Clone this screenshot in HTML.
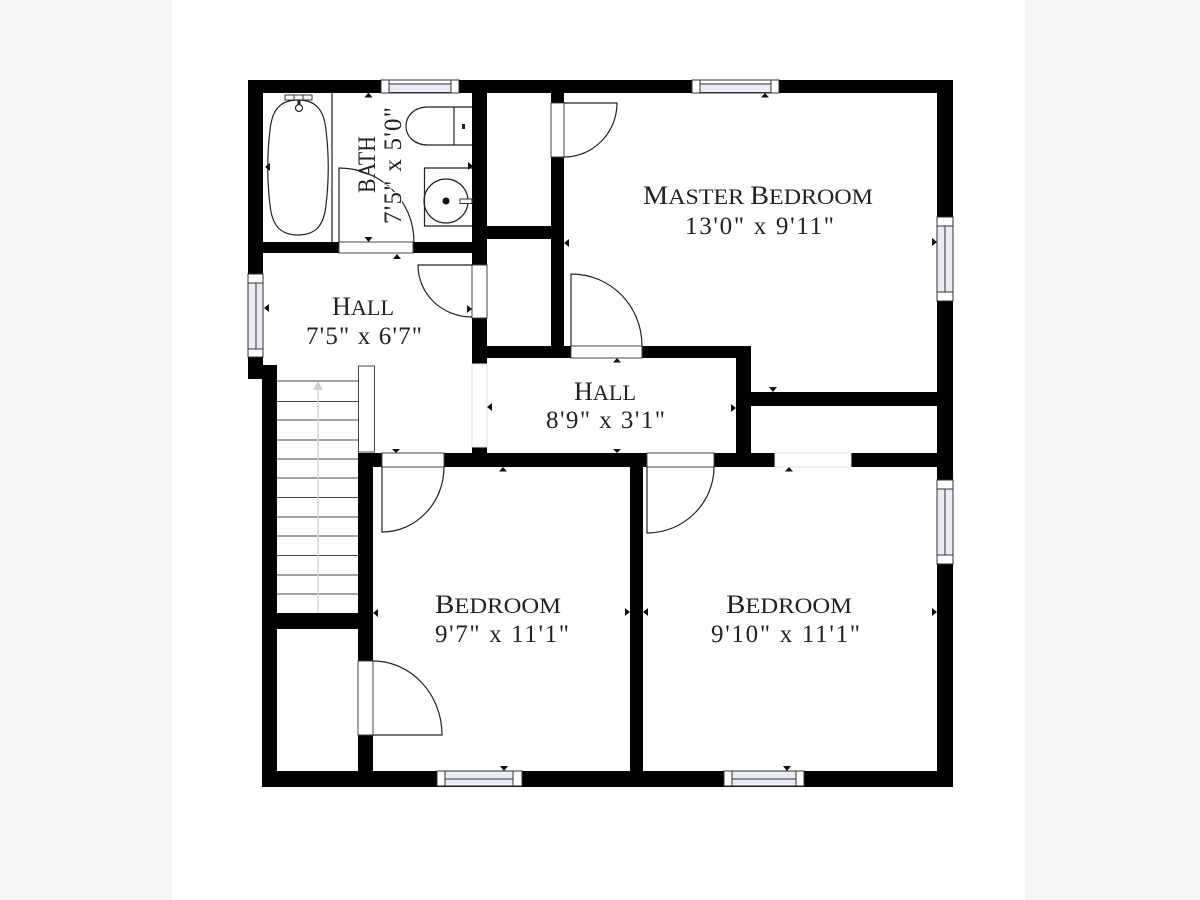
<!DOCTYPE html>
<html><head><meta charset="utf-8"><style>
html,body{margin:0;padding:0;width:1200px;height:900px;overflow:hidden;background:#f6f6f6}
svg{display:block}
text{font-family:"Liberation Serif",serif;fill:#222}
.n{font-size:22px}
.n .c{font-size:26px}
.d{font-size:25px}
.l{fill:none;stroke:#222;stroke-width:1.2}
.o{fill:#fff;stroke:#444;stroke-width:1}
.w{fill:#fff;stroke:#333;stroke-width:1}
.g{fill:#e9ebf7;stroke:#333;stroke-width:1}
</style></head><body>
<svg width="1200" height="900" viewBox="0 0 1200 900" xmlns="http://www.w3.org/2000/svg">
<rect x="172" y="0" width="853" height="900" fill="#fff"/>

<!-- walls -->
<g fill="#000">
<rect x="248" y="80" width="705" height="13"/>
<rect x="248" y="80" width="15" height="299"/>
<rect x="262" y="365" width="15" height="422"/>
<rect x="262" y="771" width="691" height="16"/>
<rect x="937" y="80" width="16" height="707"/>
<rect x="262" y="242" width="225" height="11"/>
<rect x="472" y="80" width="15" height="284"/>
<rect x="551" y="80" width="13" height="278"/>
<rect x="487" y="226" width="64" height="13"/>
<rect x="472" y="346" width="279" height="12"/>
<rect x="736" y="346" width="15" height="121"/>
<rect x="751" y="392" width="186" height="14"/>
<rect x="358" y="453" width="579" height="14"/>
<rect x="630" y="467" width="13" height="304"/>
<rect x="358" y="453" width="15" height="318"/>
<rect x="277" y="613" width="81" height="16"/>
<rect x="472" y="447" width="15" height="6"/>
</g>

<!-- bath interior thin wall -->
<line x1="332" y1="93" x2="332" y2="242" class="l"/>

<!-- openings / door gaps -->
<rect x="339" y="242" width="74" height="11" class="o"/>
<rect x="472" y="265" width="15" height="53" class="o"/>
<rect x="551" y="103" width="13" height="54" class="o"/>
<rect x="571" y="346" width="71" height="12" class="o"/>
<rect x="647" y="453" width="67" height="14" class="o"/>
<rect x="382" y="453" width="62" height="14" class="o"/>
<rect x="358" y="661" width="15" height="74" class="o"/>
<rect x="775" y="453" width="76" height="14" fill="#fff" stroke="#e4e4e4" stroke-width="1"/>
<rect x="472" y="364" width="15" height="83" fill="#fff" stroke="#e2e2e2" stroke-width="1"/>

<!-- door swings -->
<path class="l" d="M339 242V168C380 168 414 200 414 242"/>
<path class="l" d="M472 265H418C418 294 442 317 472 317"/>
<path class="l" d="M564 103H617C617 133 593 157 564 157"/>
<path class="l" d="M571 346V274C611 274 642 306 642 346"/>
<path class="l" d="M647 467V533C684 533 714 503 714 467"/>
<path class="l" d="M382 467V532C416 532 444 503 444 467"/>
<path class="l" d="M373 735H442C442 694 411 661 373 661"/>

<!-- windows -->
<g>
<rect x="381" y="80" width="78" height="13" class="w"/>
<rect x="389" y="84" width="62" height="8.5" class="g"/><line x1="389" y1="80" x2="389" y2="84" stroke="#333"/><line x1="451" y1="80" x2="451" y2="84" stroke="#333"/>
<rect x="692" y="80" width="87" height="13" class="w"/>
<rect x="700" y="84" width="71" height="8.5" class="g"/><line x1="700" y1="80" x2="700" y2="84" stroke="#333"/><line x1="771" y1="80" x2="771" y2="84" stroke="#333"/>

<rect x="937" y="217" width="16" height="84" class="w"/>
<rect x="937" y="226" width="16" height="66" class="g"/><line x1="945" y1="226" x2="945" y2="292" stroke="#333"/>
<rect x="937" y="480" width="16" height="84" class="w"/>
<rect x="937" y="489" width="16" height="66" class="g"/><line x1="945" y1="489" x2="945" y2="555" stroke="#333"/>
<rect x="248" y="274" width="15" height="83" class="w"/>
<rect x="248" y="283" width="15" height="66" class="g"/><line x1="256" y1="283" x2="256" y2="349" stroke="#333"/>

<rect x="437" y="771" width="85" height="15" class="w"/>
<rect x="445" y="771" width="68" height="15" class="g"/><line x1="445" y1="779" x2="513" y2="779" stroke="#333"/>
<rect x="724" y="771" width="80" height="15" class="w"/>
<rect x="732" y="771" width="64" height="15" class="g"/><line x1="732" y1="779" x2="796" y2="779" stroke="#333"/>
</g>

<!-- stairs -->
<g stroke="#444" stroke-width="1">
<line x1="277" y1="381" x2="358" y2="381"/><line x1="277" y1="401.5" x2="358" y2="401.5"/>
<line x1="277" y1="420" x2="358" y2="420"/><line x1="277" y1="440" x2="358" y2="440"/>
<line x1="277" y1="459" x2="358" y2="459"/><line x1="277" y1="478" x2="358" y2="478"/>
<line x1="277" y1="497.5" x2="358" y2="497.5"/><line x1="277" y1="517" x2="358" y2="517"/>
<line x1="277" y1="536" x2="358" y2="536"/><line x1="277" y1="555.5" x2="358" y2="555.5"/>
<line x1="277" y1="575" x2="358" y2="575"/><line x1="277" y1="594" x2="358" y2="594"/>
</g>
<line x1="318" y1="388" x2="318" y2="613" stroke="#d8d8d8" stroke-width="1.5"/>
<polygon points="318,381 313,390 323,390" fill="#d0d0d0"/>
<rect x="358.5" y="366" width="16" height="86" class="o"/>

<!-- tub -->
<rect x="285" y="95" width="27" height="5" fill="#fff" stroke="#333"/>
<line x1="294" y1="95" x2="294" y2="100" stroke="#333"/><line x1="303" y1="95" x2="303" y2="100" stroke="#333"/>
<path class="l" d="M298 100C316 100 324 110 326 130C329 155 329 180 326 205C324 225 316 235 298 235C280 235 272 225 270 205C267 180 267 155 270 130C272 110 280 100 298 100Z" fill="#fff"/>
<circle cx="299" cy="108" r="3.5" class="l"/>
<line x1="299" y1="100" x2="299" y2="104" stroke="#222" stroke-width="3"/>

<!-- toilet -->
<path class="l" d="M454 107H428C414 107 406 116 406 126C406 136 414 145 428 145H454"/>
<path class="l" d="M454 107V145M454 107H472M454 145H472"/>
<rect x="462" y="124" width="3" height="5" fill="#222"/>

<!-- sink -->
<path class="l" d="M472 168H424.500V226H472"/>
<circle cx="446" cy="201" r="22" class="l"/>
<circle cx="446" cy="201" r="3.500" fill="#111"/>
<rect x="460" y="199" width="12" height="4.500" fill="#fff" stroke="#333" stroke-width="1"/>

<!-- markers -->
<g fill="#111">
<polygon points="368.500,92.500 364.500,97.500 372.500,97.500"/>
<polygon points="368.500,242 364.500,237 372.500,237"/>
<polygon points="397,254 393,259 401,259"/>
<polygon points="265,167 270,163 270,171"/>
<polygon points="473,166 468,162 468,170"/>
<polygon points="264,308 269,304 269,312"/>
<polygon points="472,309 467,305 467,313"/>
<polygon points="396,453 392,449 400,449"/>
<polygon points="487,407 492,403 492,411"/>
<polygon points="617,358 613,362.500 621,362.500"/>
<polygon points="736,408 731,404 731,412"/>
<polygon points="617,453 613,449 621,449"/>
<polygon points="503,467 499,471.500 507,471.500"/>
<polygon points="773,392 769,387 777,387"/>
<polygon points="789,467 785,471.500 793,471.500"/>
<polygon points="564,243 569,239 569,247"/>
<polygon points="765,93 761,97.500 769,97.500"/>
<polygon points="937,242 932,238 932,246"/>
<polygon points="373,613 378,609 378,617"/>
<polygon points="630,612 625,608 625,616"/>
<polygon points="643,612 648,608 648,616"/>
<polygon points="937,612 932,608 932,616"/>
<polygon points="787,771 783,766 791,766"/>
<polygon points="504,771 500,766 508,766"/>
</g>

<!-- labels -->
<text class="n" x="643" y="204" textLength="230" lengthAdjust="spacingAndGlyphs"><tspan class="c">M</tspan>ASTER <tspan class="c">B</tspan>EDROOM</text>
<text class="d" x="685" y="234" textLength="149">13'0" x 9'11"</text>
<text class="n" x="332" y="315" textLength="62" lengthAdjust="spacingAndGlyphs"><tspan class="c">H</tspan>ALL</text>
<text class="d" x="306" y="344" textLength="116">7'5" x 6'7"</text>
<text class="n" x="574" y="400" textLength="62" lengthAdjust="spacingAndGlyphs"><tspan class="c">H</tspan>ALL</text>
<text class="d" x="546" y="428" textLength="119">8'9" x 3'1"</text>
<text class="n" x="435" y="613" textLength="126" lengthAdjust="spacingAndGlyphs"><tspan class="c">B</tspan>EDROOM</text>
<text class="d" x="435" y="642" textLength="134">9'7" x 11'1"</text>
<text class="n" x="726" y="613" textLength="126" lengthAdjust="spacingAndGlyphs"><tspan class="c">B</tspan>EDROOM</text>
<text class="d" x="711" y="642" textLength="149">9'10" x 11'1"</text>
<text class="d" transform="translate(375 193) rotate(-90)" textLength="57" lengthAdjust="spacingAndGlyphs">BATH</text>
<text class="d" transform="translate(401 224) rotate(-90)" textLength="117" style="paint-order:stroke;stroke:#fff;stroke-width:2px">7'5" x 5'0"</text>
</svg>
</body></html>
